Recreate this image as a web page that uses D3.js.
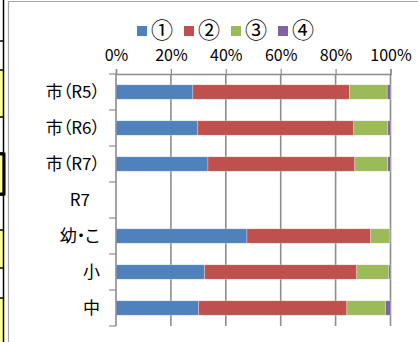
<!DOCTYPE html>
<html>
<head>
<meta charset="utf-8">
<script src="https://cdn.jsdelivr.net/npm/d3@7"></script>
<style>
  html, body { margin: 0; padding: 0; background: #fff; }
  svg { display: block; }
  .cjk { font-family: "Noto Sans CJK JP", sans-serif; font-feature-settings: "palt"; }
</style>
</head>
<body>
<div id="chart"></div>
<script>
// Response shares (%) per group, stacked ①→④
const categories = ["市（R5）", "市（R6）", "市（R7）", "R7", "幼・こ", "小", "中"];
const seriesNames = ["①", "②", "③", "④"];
const s1 = [28.0, 29.8, 33.5, 0, 47.7, 32.3, 30.1];
const s2 = [57.0, 56.8, 53.5, 0, 45.1, 55.4, 54.0];
const s3 = [13.8, 12.4, 12.0, 0, 6.8, 11.7, 14.1];
const s4 = [1.2, 1.0, 1.0, 0, 0.4, 0.6, 1.8];
const tickValues = [0, 20, 40, 60, 80, 100];
const colors = ["#4f81bd", "#c0504d", "#9bbb59", "#8064a2"];

const W = 418, H = 342;
const svg = d3.select("#chart").append("svg").attr("width", W).attr("height", H);

// spreadsheet cells peeking in at the left edge
const cellRows = [
  { y0: 0, y1: 41, fill: "#ffffff" },
  { y0: 41, y1: 70, fill: "#ffffff" },
  { y0: 70, y1: 117, fill: "#ffff99" },
  { y0: 117, y1: 153, fill: "#ffffff" },
  { y0: 153, y1: 195, fill: "#ffff99", thick: true },
  { y0: 195, y1: 230, fill: "#ffffff" },
  { y0: 230, y1: 268, fill: "#ffff99" },
  { y0: 268, y1: 298, fill: "#ffffff" },
  { y0: 298, y1: 342, fill: "#ffff99" }
];
const cells = svg.append("g");
cellRows.forEach(c => {
  cells.append("rect").attr("x", 0).attr("y", c.y0).attr("width", 3).attr("height", c.y1 - c.y0).attr("fill", c.fill);
});
cells.append("line").attr("x1", 3.5).attr("x2", 3.5).attr("y1", 0).attr("y2", H).attr("stroke", "#000").attr("stroke-width", 1.5);
cellRows.slice(1).forEach(c => {
  cells.append("line").attr("x1", 0).attr("x2", 4).attr("y1", c.y0).attr("y2", c.y0).attr("stroke", "#000").attr("stroke-width", 1.5);
});
cellRows.filter(c => c.thick).forEach(c => {
  cells.append("rect").attr("x", -2).attr("y", c.y0 + 1).attr("width", 6).attr("height", c.y1 - c.y0 - 2)
    .attr("fill", "none").attr("stroke", "#000").attr("stroke-width", 3);
});

// chart area frame
svg.append("path").attr("d", `M8.5,${H} V1.5 H${W}`).attr("fill", "none").attr("stroke", "#a6a6a6").attr("stroke-width", 1.2);

const x = d3.scaleLinear().domain([0, 100]).range([116, 390.5]);
const y = d3.scaleBand().domain(categories).range([74, 326]).paddingInner(0.6).paddingOuter(0.3);

// gridlines
svg.append("g").selectAll("line").data(tickValues.slice(1)).join("line")
  .attr("x1", d => x(d)).attr("x2", d => x(d)).attr("y1", 74).attr("y2", 326)
  .attr("stroke", "#8c8c8c").attr("stroke-width", 1.6);

// stacked bars
const rows = categories.map((c, i) => ({ cat: c, "①": s1[i], "②": s2[i], "③": s3[i], "④": s4[i] }));
const stack = d3.stack().keys(seriesNames)(rows);
svg.append("g").selectAll("g").data(stack).join("g")
  .attr("fill", (d, i) => colors[i])
  .selectAll("rect").data(d => d).join("rect")
  .attr("x", d => x(d[0])).attr("width", d => x(d[1]) - x(d[0]))
  .attr("y", d => y(d.data.cat)).attr("height", y.bandwidth())
  .attr("stroke", "rgba(255,255,255,0.45)").attr("stroke-width", 0.6);

// top value axis
const xAxis = svg.append("g").attr("transform", "translate(0,74)")
  .call(d3.axisTop(x).tickValues(tickValues).tickFormat(d => d + "%").tickSize(5).tickPadding(8));
xAxis.select(".domain").attr("stroke", "#8c8c8c").attr("stroke-width", 1.6);
xAxis.selectAll(".tick line").attr("stroke", "#8c8c8c").attr("stroke-width", 1.2);
xAxis.selectAll("text").attr("class", "cjk").attr("font-size", 16).attr("fill", "#000");

// left category axis (ticks between bands)
const bounds = d3.range(categories.length + 1).map(i => 74 + i * y.step());
const yAxisG = svg.append("g");
yAxisG.append("line").attr("x1", 116).attr("x2", 116).attr("y1", 74).attr("y2", 326)
  .attr("stroke", "#8c8c8c").attr("stroke-width", 1.6);
yAxisG.selectAll("line.t").data(bounds).join("line").attr("class", "t")
  .attr("x1", 109).attr("x2", 116).attr("y1", d => d).attr("y2", d => d)
  .attr("stroke", "#8c8c8c").attr("stroke-width", 1.2);
yAxisG.selectAll("text").data(categories).join("text")
  .attr("class", "cjk")
  .attr("x", d => d === "R7" ? 90 : 100)
  .attr("y", d => y(d) + y.bandwidth() / 2)
  .attr("dy", "0.36em")
  .attr("text-anchor", "end").attr("font-size", 17).attr("fill", "#000")
  .text(d => d);

// legend
const legend = svg.append("g").attr("transform", "translate(137,26)");
const li = legend.selectAll("g").data(seriesNames).join("g").attr("transform", (d, i) => `translate(${i * 47},0)`);
li.append("rect").attr("width", 10).attr("height", 10).attr("fill", (d, i) => colors[i]);
li.append("text").attr("class", "cjk").attr("x", 14).attr("y", 4.5).attr("dy", "0.36em")
  .attr("font-size", 22).attr("fill", "#000").text(d => d);
</script>
</body>
</html>
